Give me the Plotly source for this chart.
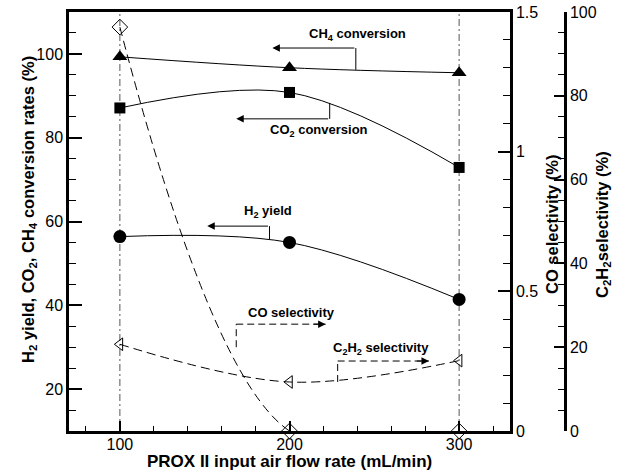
import plotly.graph_objects as go

# ---- data ----
air_flow = [100, 200, 300]                     # mL/min
ch4_conversion = [99.3, 96.7, 95.5]            # %
co2_conversion = [87.1, 90.8, 72.9]            # %
h2_yield = [56.4, 55.0, 41.4]                  # %
co_selectivity = [1.446, 0.0, 0.0]             # % (right axis 1)
c2h2_selectivity = [20.7, 11.7, 16.8]          # % (right axis 2)

x_ticks = [100, 200, 300]

FONT = "Arial, 'Liberation Sans', Helvetica, sans-serif"
W, H = 633, 475
ML, MR, MT, MB = 69, 23, 12, 44
PW = W - ML - MR
PH = H - MT - MB
x_dom_end = (510 - ML) / PW
y3_pos = (565 - ML) / PW

fig = go.Figure()

line_solid = dict(color="black", width=1, shape="spline", smoothing=1.0)
line_dash = dict(color="black", width=1, shape="spline", smoothing=1.0, dash="9px,5px")

fig.add_trace(go.Scatter(x=air_flow, y=ch4_conversion, mode="lines+markers", name="CH4 conversion",
                         line=line_solid, marker=dict(symbol="triangle-up", size=13, color="black"),
                         cliponaxis=False))
fig.add_trace(go.Scatter(x=air_flow, y=co2_conversion, mode="lines+markers", name="CO2 conversion",
                         line=line_solid, marker=dict(symbol="square", size=11, color="black"),
                         cliponaxis=False))
fig.add_trace(go.Scatter(x=air_flow, y=h2_yield, mode="lines+markers", name="H2 yield",
                         line=line_solid, marker=dict(symbol="circle", size=13, color="black"),
                         cliponaxis=False))
fig.add_trace(go.Scatter(x=air_flow, y=co_selectivity, mode="lines+markers", name="CO selectivity",
                         yaxis="y2", line=line_dash,
                         marker=dict(symbol="diamond-open", size=12, color="black", line=dict(width=1)),
                         cliponaxis=False))
fig.add_trace(go.Scatter(x=air_flow, y=c2h2_selectivity, mode="lines+markers", name="C2H2 selectivity",
                         yaxis="y3", line=line_dash,
                         marker=dict(symbol="triangle-left-open", size=11, color="black", line=dict(width=1)),
                         cliponaxis=False))

# vertical dash-dot reference lines at the first and last flow rates
for xv in (air_flow[0], air_flow[-1]):
    fig.add_shape(type="line", xref="x", yref="paper", x0=xv, x1=xv, y0=0, y1=1,
                  line=dict(color="#555555", width=1, dash="7px,3px,2px,3px"), layer="below")

# ---- leader brackets with arrows (in left-axis data coordinates) ----
def bracket(xv, y_curve, y_turn, x_end, dashed):
    dash = "7px,4px" if dashed else "solid"
    fig.add_shape(type="line", xref="x", yref="y", x0=xv, x1=xv, y0=y_curve, y1=y_turn,
                  line=dict(color="black", width=1, dash=dash))
    if dashed:
        fig.add_shape(type="line", xref="x", yref="y", x0=xv, x1=x_end, y0=y_turn, y1=y_turn,
                      line=dict(color="black", width=1, dash=dash))
        tail = x_end - 8 if x_end > xv else x_end + 8
        fig.add_annotation(x=x_end, y=y_turn, ax=tail, ay=y_turn, xref="x", yref="y",
                           axref="x", ayref="y", showarrow=True, arrowhead=2, arrowsize=1.5,
                           arrowwidth=1, arrowcolor="black", text="")
    else:
        fig.add_annotation(x=x_end, y=y_turn, ax=xv, ay=y_turn, xref="x", yref="y",
                           axref="x", ayref="y", showarrow=True, arrowhead=2, arrowsize=1.5,
                           arrowwidth=1, arrowcolor="black", text="")

bracket(239.1, 96.2, 101.4, 189.9, False)   # CH4
bracket(223.7, 88.3, 84.5, 168.6, False)    # CO2
bracket(188.2, 55.8, 58.9, 151.5, False)    # H2
bracket(168.6, 30.0, 35.5, 221.3, True)     # CO selectivity
bracket(228.4, 21.7, 26.7, 282.2, True)     # C2H2 selectivity

lab_font = dict(family=FONT, size=13, color="black")
labels = [
    (240.2, 104.7, "<b>CH<sub>4</sub> conversion</b>"),
    (217.2, 81.8, "<b>CO<sub>2</sub> conversion</b>"),
    (187.6, 62.3, "<b>H<sub>2</sub> yield</b>"),
    (201.2, 38.2, "<b>CO selectivity</b>"),
    (253.8, 29.8, "<b>C<sub>2</sub>H<sub>2</sub> selectivity</b>"),
]
for lx, ly, txt in labels:
    fig.add_annotation(x=lx, y=ly, xref="x", yref="y", text=txt, showarrow=False, font=lab_font)

# ---- axis titles as annotations ----
def pix_x(px):
    return (px - ML) / PW
def pix_y(py):
    return (H - MB - py) / PH

title_font = dict(family=FONT, size=16.5, color="black")
fig.add_annotation(x=pix_x(29), y=pix_y(210), xref="paper", yref="paper",
                   text="<b>H<sub>2</sub> yield, CO<sub>2</sub>, CH<sub>4</sub> conversion rates (%)</b>",
                   textangle=-90, showarrow=False, font=title_font, xanchor="center", yanchor="middle")
fig.add_annotation(x=pix_x(552), y=pix_y(225), xref="paper", yref="paper",
                   text="<b>CO selectivity (%)</b>",
                   textangle=-90, showarrow=False, font=title_font, xanchor="center", yanchor="middle")
fig.add_annotation(x=pix_x(603), y=pix_y(225), xref="paper", yref="paper",
                   text="<b>C<sub>2</sub>H<sub>2</sub>selectivity (%)</b>",
                   textangle=-90, showarrow=False, font=title_font, xanchor="center", yanchor="middle")
fig.add_annotation(x=pix_x(289), y=pix_y(461), xref="paper", yref="paper",
                   text="<b>PROX II input air flow rate (mL/min)</b>",
                   showarrow=False, font=dict(family=FONT, size=17, color="black"),
                   xanchor="center", yanchor="middle")

tick_font = dict(family=FONT, size=16, color="black")

fig.update_layout(
    width=W, height=H,
    margin=dict(l=ML, r=MR, t=MT, b=MB, autoexpand=False),
    paper_bgcolor="white", plot_bgcolor="white",
    showlegend=False,
    font=dict(family=FONT, color="black"),
    xaxis=dict(domain=[0, x_dom_end], range=[70, 330], tickvals=x_ticks,
               ticks="inside", ticklen=10, tickwidth=2, tickcolor="black",
               minor=dict(dtick=20, ticks="inside", ticklen=5, tickwidth=1, tickcolor="black", showgrid=False),
               showline=True, linewidth=2.5, linecolor="black", mirror=True,
               showgrid=False, zeroline=False, tickfont=tick_font, automargin=False,
               ticklabelstandoff=-3),
    yaxis=dict(range=[10, 110], dtick=20, tick0=0,
               ticks="inside", ticklen=13, tickwidth=2, tickcolor="black",
               minor=dict(dtick=5, ticks="inside", ticklen=7, tickwidth=1, tickcolor="black", showgrid=False),
               showline=True, linewidth=2.5, linecolor="black",
               showgrid=False, zeroline=False, tickfont=tick_font, automargin=False),
    yaxis2=dict(overlaying="y", side="right", anchor="x", range=[0, 1.5], dtick=0.5,
                ticks="inside", ticklen=12, tickwidth=2, tickcolor="black",
                minor=dict(dtick=0.1, ticks="inside", ticklen=7, tickwidth=1, tickcolor="black", showgrid=False),
                showline=True, linewidth=2.5, linecolor="black",
                showgrid=False, zeroline=False, tickfont=tick_font, automargin=False),
    yaxis3=dict(overlaying="y", side="right", anchor="free", position=y3_pos,
                range=[0, 100], dtick=20,
                ticks="inside", ticklen=10, tickwidth=2, tickcolor="black",
                minor=dict(dtick=5, ticks="inside", ticklen=6, tickwidth=1, tickcolor="black", showgrid=False),
                showline=True, linewidth=2.5, linecolor="black",
                showgrid=False, zeroline=False, tickfont=tick_font, automargin=False),
)

fig.write_html("out.html")
